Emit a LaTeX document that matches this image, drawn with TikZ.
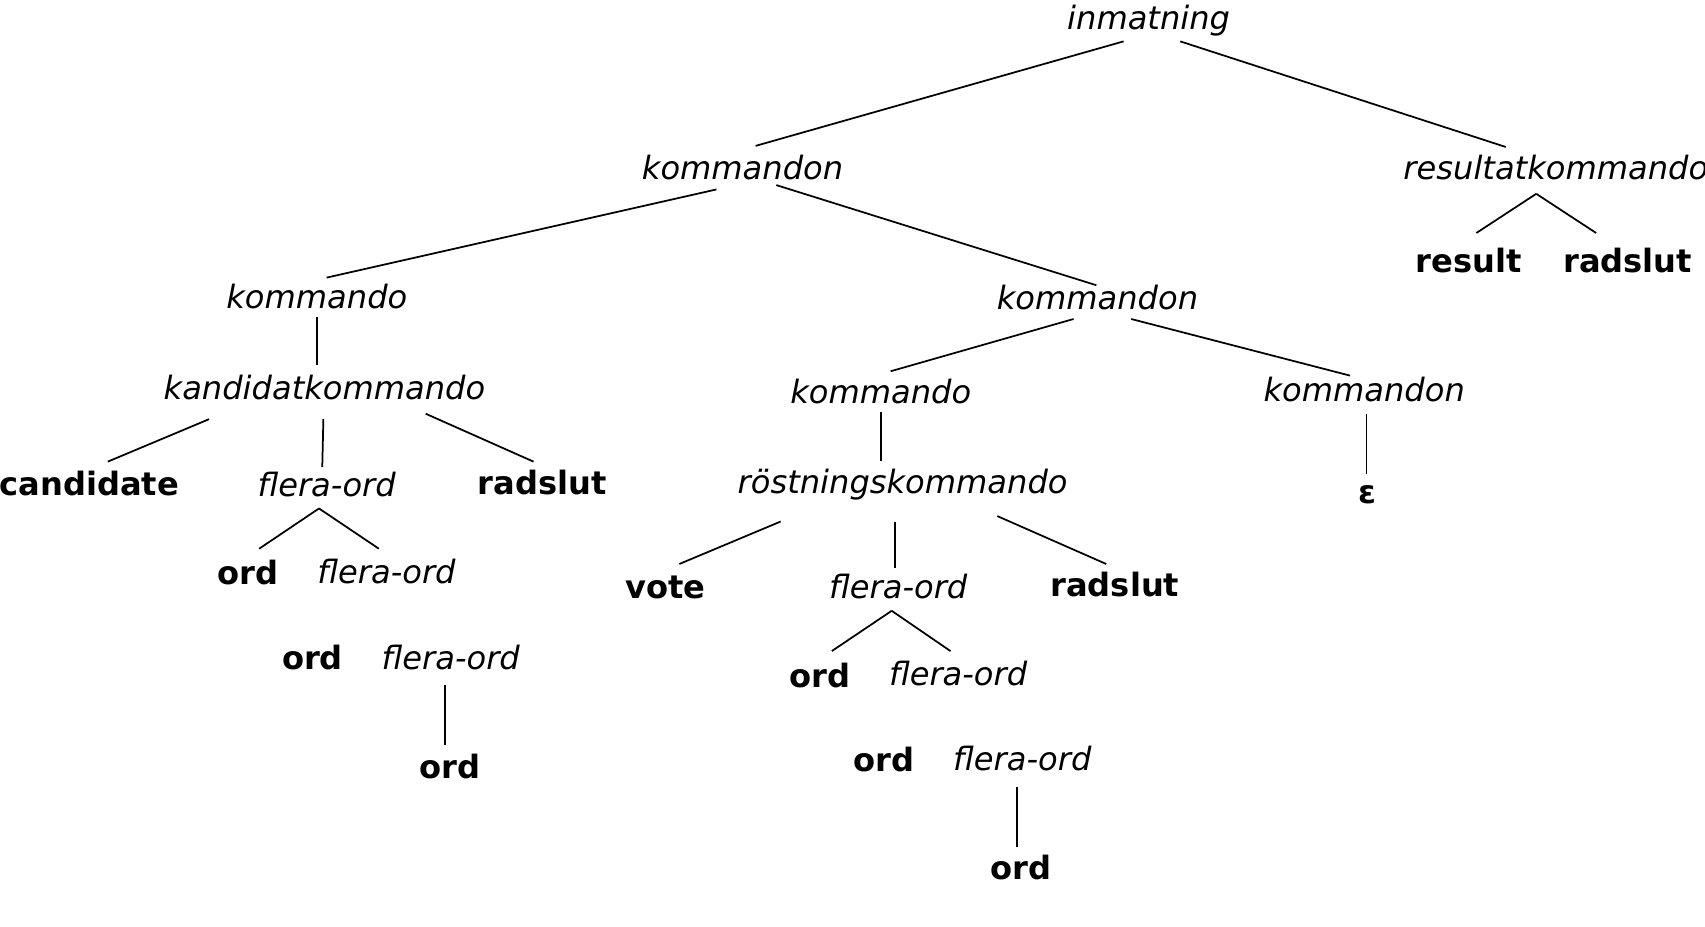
\documentclass[tikz,border=0pt]{standalone}
\usepackage{fontspec}
\setmainfont{DejaVu Sans}
\begin{document}
\begin{tikzpicture}[x=1pt,y=-1pt,
  every node/.style={anchor=base,inner sep=0pt,font=\fontsize{29.5}{35}\selectfont},
  nt/.style={font=\fontsize{29.5}{35}\selectfont\itshape},
  tm/.style={font=\fontsize{29.5}{35}\selectfont\bfseries},
  edge/.style={draw,line width=1.6pt}]
\useasboundingbox (0,0) rectangle (1566,851);
% nodes
\node[nt] (inm) at (1055,27) {inmatning};
\node[nt] (kn1) at (682,165) {kommandon};
\node[nt] (rk) at (1429,165) {resultatkommando};
\node[tm] (res) at (1349,250) {result};
\node[tm] (rs0) at (1495,250) {radslut};
\node[nt] (k3a) at (291,283) {kommando};
\node[nt] (k3b) at (1008,284) {kommandon};
\node[nt] (kk) at (298,367) {kandidatkommando};
\node[nt] (k4a) at (809,371) {kommando};
\node[nt] (k4b) at (1253,369) {kommandon};
\node[tm] (cand) at (82,455) {candidate};
\node[nt] (fo1) at (300,456) {flera-ord};
\node[tm] (rs1) at (498,454) {radslut};
\node[nt] (rsk) at (829,453) {röstningskommando};
\node[tm] (eps) at (1256,462) {ε};
\node[tm] (ord1) at (228,537) {ord};
\node[nt] (fo2) at (355,536) {flera-ord};
\node[tm] (vote) at (611,550) {vote};
\node[nt] (fo4) at (825,550) {flera-ord};
\node[tm] (rs2) at (1024,548) {radslut};
\node[tm] (ord2) at (287,615) {ord};
\node[nt] (fo3) at (414,615) {flera-ord};
\node[tm] (ord3) at (413,715) {ord};
\node[tm] (ord4) at (753,631) {ord};
\node[nt] (fo5) at (880,630) {flera-ord};
\node[tm] (ord5) at (812,709) {ord};
\node[nt] (fo6) at (939,708) {flera-ord};
\node[tm] (ord6) at (938,808) {ord};
% connectors
\path[edge] ([shift={(-23,11)}]inm.base) -- ([shift={(12,-31)}]kn1.base);
\path[edge] ([shift={(29,11)}]inm.base) -- ([shift={(-46,-30)}]rk.base);
\path[edge] ([shift={(-24,9)}]kn1.base) -- ([shift={(9,-28)}]k3a.base);
\path[edge] ([shift={(31,5)}]kn1.base) -- ([shift={(-1,-22)}]k3b.base);
\path[edge] ([shift={(-18,13)}]rk.base) -- ([shift={(7,-36)}]res.base);
\path[edge] ([shift={(-18,13)}]rk.base) -- ([shift={(-29,-36)}]rs0.base);
\path[edge] ([shift={(0,8)}]k3a.base) -- ([shift={(-7,-32)}]kk.base);
\path[edge] ([shift={(-106,18)}]kk.base) -- ([shift={(17,-31)}]cand.base);
\path[edge] ([shift={(-1,18)}]kk.base) -- ([shift={(-4,-27)}]fo1.base);
\path[edge] ([shift={(93,13)}]kk.base) -- ([shift={(-8,-30)}]rs1.base);
\path[edge] ([shift={(-7,11)}]fo1.base) -- ([shift={(10,-33)}]ord1.base);
\path[edge] ([shift={(-7,11)}]fo1.base) -- ([shift={(-7,-32)}]fo2.base);
\path[edge] ([shift={(-5,14)}]fo3.base) -- ([shift={(-4,-31)}]ord3.base);
\path[edge] ([shift={(-22,9)}]k3b.base) -- ([shift={(9,-30)}]k4a.base);
\path[edge] ([shift={(31,9)}]k3b.base) -- ([shift={(-13,-24)}]k4b.base);
\path[edge] ([shift={(0,7)}]k4a.base) -- ([shift={(-20,-30)}]rsk.base);
\path[edge] ([shift={(2,11)}]k4b.base) -- ([shift={(-1,-27)}]eps.base);
\path[edge] ([shift={(-112,26)}]rsk.base) -- ([shift={(13,-32)}]vote.base);
\path[edge] ([shift={(-7,26)}]rsk.base) -- ([shift={(-3,-28)}]fo4.base);
\path[edge] ([shift={(87,21)}]rsk.base) -- ([shift={(-8,-30)}]rs2.base);
\path[edge] ([shift={(-6,11)}]fo4.base) -- ([shift={(11,-33)}]ord4.base);
\path[edge] ([shift={(-6,11)}]fo4.base) -- ([shift={(-7,-32)}]fo5.base);
\path[edge] ([shift={(-5,15)}]fo6.base) -- ([shift={(-4,-30)}]ord6.base);
\end{tikzpicture}
\end{document}
